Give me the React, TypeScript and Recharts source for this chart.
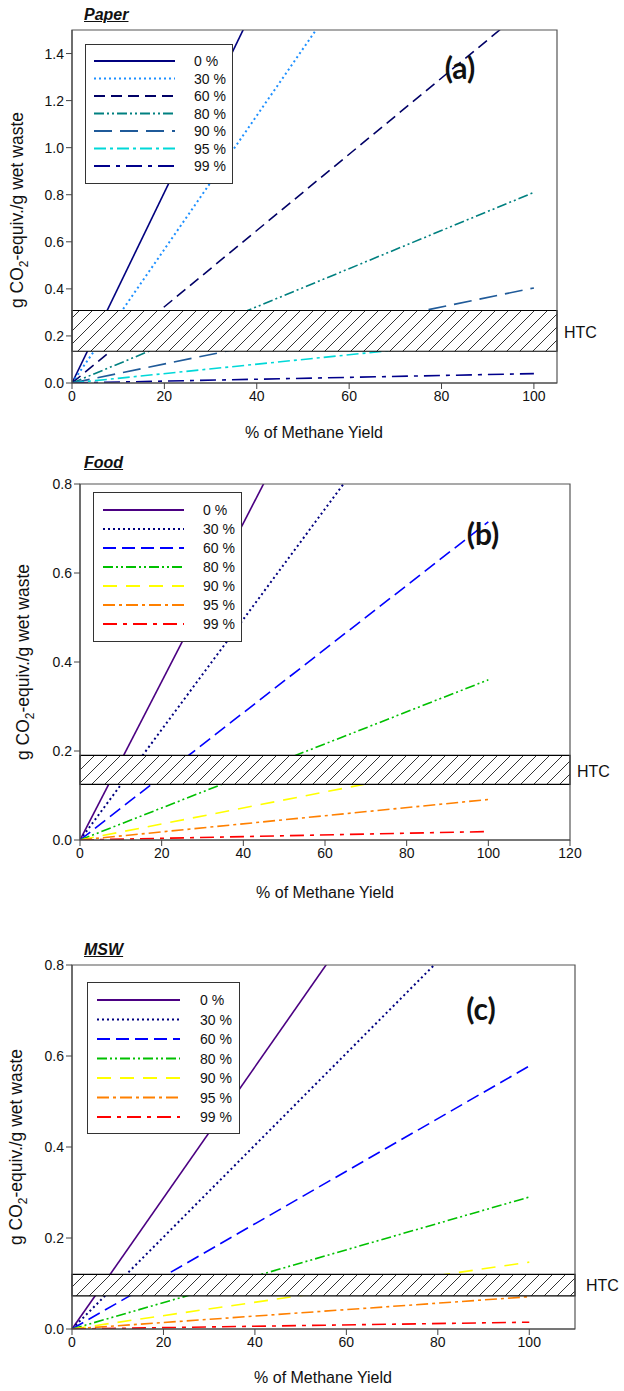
import React from "react";
import { LineChart, Line, XAxis, YAxis, ReferenceArea, Legend } from "recharts";

// methane yield (%) where each line starts and ends
const yieldPoints = [0, 100];
const seriesNames = ["0 %", "30 %", "60 %", "80 %", "90 %", "95 %", "99 %"];

// g CO2-equiv./g wet waste at 0 % and 100 % methane yield
const paperStart = [0, 0, 0, 0, 0, 0, 0];
const paperEnd = [4.05, 2.84, 1.62, 0.81, 0.404, 0.2, 0.04];
const foodStart = [0, 0, 0, 0, 0, 0, 0];
const foodEnd = [1.78, 1.24, 0.715, 0.36, 0.18, 0.091, 0.019];
const mswStart = [0, 0, 0, 0, 0, 0, 0];
const mswEnd = [1.44, 1.01, 0.578, 0.29, 0.147, 0.071, 0.015];

// HTC band (low, high)
const paperBand = [0.135, 0.308];
const foodBand = [0.125, 0.19];
const mswBand = [0.073, 0.12];

const paperXTicks = [0, 20, 40, 60, 80, 100];
const paperYTicks = [0, 0.2, 0.4, 0.6, 0.8, 1.0, 1.2, 1.4];
const foodXTicks = [0, 20, 40, 60, 80, 100, 120];
const foodYTicks = [0, 0.2, 0.4, 0.6, 0.8];
const mswXTicks = [0, 20, 40, 60, 80, 100];
const mswYTicks = [0, 0.2, 0.4, 0.6, 0.8];

const paperColors = ["#00007f", "#1e90ff", "#000066", "#008080", "#1f5a99", "#00d8d8", "#00008b"];
const foodColors = ["#4b0082", "#000080", "#0000ff", "#00c000", "#ffff00", "#ff8000", "#ff0000"];
const paperDashes = ["", "2 3", "11 6", "10 3 2 3 2 3", "18 8", "12 4 3 4", "16 6 4 6"];
const foodDashes = ["", "2 3", "13 6", "10 3 2 3 2 3", "14 9", "12 4 3 4", "14 6 4 6"];

const FONT = '"Liberation Sans", Arial, sans-serif';

function buildRows(start: number[], end: number[]) {
  const vals = [start, end];
  return yieldPoints.map((x, i) => {
    const row: Record<string, number> = { x };
    seriesNames.forEach((n, k) => (row[n] = vals[i][k]));
    return row;
  });
}

type PanelProps = {
  top: number;
  height: number;
  margin: { top: number; right: number; bottom: number; left: number };
  start: number[];
  end: number[];
  band: number[];
  xMax: number;
  yMax: number;
  xTicks: number[];
  yTicks: number[];
  colors: string[];
  dashes: string[];
  legendBox: { left: number; top: number; width: number; height: number; firstRow: number; rowGap: number; lineX1: number; lineX2: number; labelX: number };
};

function Panel(p: PanelProps) {
  const data = buildRows(p.start, p.end);
  const lb = p.legendBox;
  const renderLegend = (props: any) => {
    const payload = props.payload || [];
    return (
      <div style={{ width: lb.width, height: lb.height, boxSizing: "border-box", border: "1px solid #333", background: "#fff" }}>
        <svg width={lb.width - 2} height={lb.height - 2} style={{ display: "block" }}>
          {payload.map((entry: any, i: number) => {
            const y = lb.firstRow + i * lb.rowGap - 1;
            return (
              <g key={entry.value}>
                <line x1={lb.lineX1} x2={lb.lineX2} y1={y} y2={y} stroke={p.colors[i]} strokeWidth={i === 1 ? 2 : 1.8} strokeDasharray={p.dashes[i]} />
                <text x={lb.labelX} y={y + 5} fontSize={14} fontFamily={FONT} fill="#111">
                  {entry.value}
                </text>
              </g>
            );
          })}
        </svg>
      </div>
    );
  };

  return (
    <div style={{ position: "absolute", left: 0, top: p.top, width: 624, height: p.height }}>
      <LineChart width={624} height={p.height} data={data} margin={p.margin}>
        <XAxis
          type="number"
          dataKey="x"
          domain={[0, p.xMax]}
          ticks={p.xTicks}
          allowDataOverflow
          height={30}
          tickSize={6}
          stroke="#444"
          tick={{ fontSize: 14, fontFamily: FONT, fill: "#111" }}
        />
        <YAxis
          type="number"
          domain={[0, p.yMax]}
          ticks={p.yTicks}
          allowDataOverflow
          width={50}
          tickSize={6}
          stroke="#444"
          tickFormatter={(v: number) => v.toFixed(1)}
          tick={{ fontSize: 14, fontFamily: FONT, fill: "#111" }}
        />
        {seriesNames.map((n, i) => (
          <Line
            key={n}
            type="linear"
            dataKey={n}
            name={n}
            stroke={p.colors[i]}
            strokeWidth={i === 1 ? 2 : 1.6}
            strokeDasharray={p.dashes[i]}
            dot={false}
            activeDot={false}
            isAnimationActive={false}
          />
        ))}
        <ReferenceArea
          x1={0}
          x2={p.xMax}
          y1={p.band[0]}
          y2={p.band[1]}
          fill="url(#hatch)"
          fillOpacity={1}
          stroke="#000"
          strokeWidth={1.2}
          ifOverflow="visible"
          zIndex={450}
        />
        <ReferenceArea x1={0} x2={p.xMax} y1={0} y2={p.yMax} fill="none" stroke="#555" strokeWidth={1.2} ifOverflow="visible" zIndex={460} />
        <Legend
          layout="vertical"
          align="center"
          verticalAlign="middle"
          content={renderLegend}
          wrapperStyle={{ left: lb.left, top: lb.top, width: lb.width, height: lb.height }}
        />
      </LineChart>
    </div>
  );
}

function Txt({ x, y, children, style }: { x: number; y: number; children: React.ReactNode; style?: React.CSSProperties }) {
  return (
    <div style={{ position: "absolute", left: x, top: y, transform: "translate(-50%, -50%)", whiteSpace: "nowrap", fontFamily: FONT, color: "#111", ...style }}>
      {children}
    </div>
  );
}

function YTitle({ x, y }: { x: number; y: number }) {
  return (
    <Txt x={x} y={y} style={{ fontSize: 17.5, transform: "translate(-50%, -50%) rotate(-90deg)" }}>
      g CO<sub style={{ fontSize: 12 }}>2</sub>-equiv./g wet waste
    </Txt>
  );
}

const titleStyle: React.CSSProperties = { fontSize: 16, fontWeight: "bold", fontStyle: "italic", textDecoration: "underline", transform: "translate(0, -50%)" };
const letterStyle: React.CSSProperties = { fontSize: 30, fontWeight: "bold", fontFamily: "Lato, sans-serif" };

export default function App() {
  return (
    <div style={{ position: "absolute", left: 0, top: 0, width: 624, height: 1391, background: "#fff", overflow: "hidden" }}>
      <svg width={0} height={0} style={{ position: "absolute" }}>
        <defs>
          <pattern id="hatch" patternUnits="userSpaceOnUse" width={13} height={13}>
            <rect width={13} height={13} fill="#fff" />
            <path d="M0,13 L13,0 M-3,3 L3,-3 M10,16 L16,10" stroke="#000" strokeWidth={0.8} />
          </pattern>
        </defs>
      </svg>

      <Panel
        top={0}
        height={450}
        margin={{ top: 30, right: 67, bottom: 37, left: 22 }}
        start={paperStart}
        end={paperEnd}
        band={paperBand}
        xMax={105}
        yMax={1.5}
        xTicks={paperXTicks}
        yTicks={paperYTicks}
        colors={paperColors}
        dashes={paperDashes}
        legendBox={{ left: 85, top: 44, width: 148, height: 140, firstRow: 17, rowGap: 17.5, lineX1: 8, lineX2: 89, labelX: 108 }}
      />
      <Panel
        top={460}
        height={450}
        margin={{ top: 24, right: 54, bottom: 40, left: 30 }}
        start={foodStart}
        end={foodEnd}
        band={foodBand}
        xMax={120}
        yMax={0.8}
        xTicks={foodXTicks}
        yTicks={foodYTicks}
        colors={foodColors}
        dashes={foodDashes}
        legendBox={{ left: 93, top: 32, width: 149, height: 150, firstRow: 18, rowGap: 19, lineX1: 9, lineX2: 90, labelX: 109 }}
      />
      <Panel
        top={930}
        height={461}
        margin={{ top: 35, right: 49, bottom: 32, left: 22 }}
        start={mswStart}
        end={mswEnd}
        band={mswBand}
        xMax={110}
        yMax={0.8}
        xTicks={mswXTicks}
        yTicks={mswYTicks}
        colors={foodColors}
        dashes={foodDashes}
        legendBox={{ left: 87, top: 52, width: 153, height: 152, firstRow: 18, rowGap: 19.5, lineX1: 9, lineX2: 92, labelX: 112 }}
      />

      <Txt x={84} y={15} style={titleStyle}>Paper</Txt>
      <Txt x={84} y={463} style={titleStyle}>Food</Txt>
      <Txt x={84} y={950} style={titleStyle}>MSW</Txt>

      <Txt x={460} y={67} style={letterStyle}>(a)</Txt>
      <Txt x={483} y={533} style={letterStyle}>(b)</Txt>
      <Txt x={481} y={1008} style={letterStyle}>(c)</Txt>

      <Txt x={564} y={333} style={{ fontSize: 16, transform: "translate(0, -50%)" }}>HTC</Txt>
      <Txt x={577} y={772} style={{ fontSize: 16, transform: "translate(0, -50%)" }}>HTC</Txt>
      <Txt x={586} y={1286} style={{ fontSize: 16, transform: "translate(0, -50%)" }}>HTC</Txt>

      <Txt x={314} y={433} style={{ fontSize: 16 }}>% of Methane Yield</Txt>
      <Txt x={325} y={893} style={{ fontSize: 16 }}>% of Methane Yield</Txt>
      <Txt x={323} y={1378} style={{ fontSize: 16 }}>% of Methane Yield</Txt>

      <YTitle x={19} y={210} />
      <YTitle x={25} y={662} />
      <YTitle x={18} y={1147} />
    </div>
  );
}
